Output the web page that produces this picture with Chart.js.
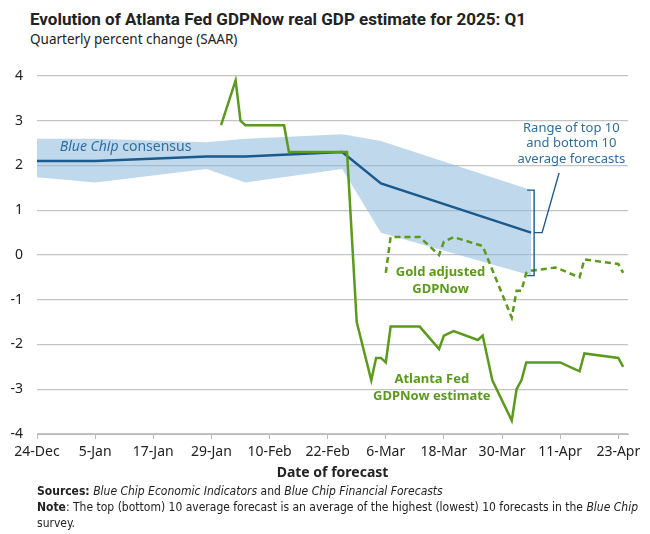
<!DOCTYPE html>
<html>
<head>
<meta charset="utf-8">
<script src="https://cdn.jsdelivr.net/npm/chart.js@4.4.1/dist/chart.umd.min.js"></script>
<style>
  body { margin: 0; width: 650px; height: 534px; background: #fff; position: relative; overflow: hidden; font-family: 'Noto Sans', sans-serif; color: #222; }
  #title { position: absolute; left: 30px; top: 9px; font-family: Roboto, 'Noto Sans', sans-serif; font-size: 17px; font-weight: bold; }
  #sub { position: absolute; left: 30px; top: 30px; font-size: 13.5px; }
  #wrap { position: absolute; left: 0; top: 50px; width: 650px; height: 436px; }
  #notes { position: absolute; left: 37px; top: 483px; font-family: 'Liberation Sans Narrow', 'DejaVu Sans Condensed', sans-serif; font-size: 12px; line-height: 16px; }
</style>
</head>
<body>
<div id="title">Evolution of Atlanta Fed GDPNow real GDP estimate for 2025: Q1</div>
<div id="sub">Quarterly percent change (SAAR)</div>
<div id="wrap"><canvas id="gdp"></canvas></div>
<div id="notes">
  <b>Sources:</b> <i>Blue Chip Economic Indicators</i> and <i>Blue Chip Financial Forecasts</i><br>
  <b>Note</b>: The top (bottom) 10 average forecast is an average of the highest (lowest) 10 forecasts in the <i>Blue Chip</i><br>survey.
</div>
<script>
  // x values are days since 24-Dec-2024
  const tickDays   = [0, 12, 24, 36, 48, 60, 72, 84, 96, 108, 120];
  const tickLabels = ["24-Dec", "5-Jan", "17-Jan", "29-Jan", "10-Feb", "22-Feb", "6-Mar", "18-Mar", "30-Mar", "11-Apr", "23-Apr"];

  const consensusDays   = [0, 12, 35, 43, 63, 71, 102];
  const consensusValues = [2.1, 2.1, 2.2, 2.2, 2.3, 1.6, 0.5];
  const top10Values     = [2.6, 2.6, 2.52, 2.6, 2.7, 2.55, 1.45];
  const bottom10Values  = [1.74, 1.62, 1.92, 1.62, 1.92, 0.5, -0.46];

  const nowDays   = [38, 41, 42, 43, 51, 52, 64, 66, 69, 70, 71, 72, 73, 79, 83, 84, 86, 91, 92, 94, 98, 99, 100, 101, 108, 112, 113, 120, 121];
  const nowValues = [2.9, 3.9, 3.0, 2.9, 2.9, 2.3, 2.3, -1.5, -2.8, -2.3, -2.3, -2.4, -1.6, -1.6, -2.1, -1.8, -1.7, -1.9, -1.8, -2.8, -3.7, -3.0, -2.8, -2.4, -2.4, -2.6, -2.2, -2.3, -2.5];

  const goldDays   = [72, 73, 79, 83, 84, 86, 92, 98, 99, 100, 101, 102, 107, 108, 112, 113, 120, 121];
  const goldValues = [-0.4, 0.4, 0.4, 0.0, 0.3, 0.4, 0.2, -1.4, -0.8, -0.8, -0.4, -0.35, -0.28, -0.32, -0.5, -0.1, -0.2, -0.4];

  const BLUE = "#1b5a8c";
  const LABEL_BLUE = "#2f6f9f";
  const GREEN = "#5b9a1c";
  const FONT = "'Noto Sans', sans-serif";

  const pts = (xs, ys) => xs.map((d, i) => ({ x: d, y: ys[i] }));

  Chart.defaults.font.family = FONT;
  Chart.defaults.color = "#222";

  // text labels and the range bracket
  const notes = {
    id: "notes",
    afterDatasetsDraw(chart) {
      const { ctx, scales: { x, y } } = chart;
      ctx.save();
      ctx.textBaseline = "middle";

      ctx.fillStyle = LABEL_BLUE;
      ctx.textAlign = "left";
      let px = x.getPixelForValue(4.7), py = y.getPixelForValue(2.41);
      ctx.font = "italic 14px " + FONT;
      ctx.fillText("Blue Chip", px, py);
      px += ctx.measureText("Blue Chip ").width;
      ctx.font = "14px " + FONT;
      ctx.fillText("consensus", px, py);

      ctx.fillStyle = GREEN;
      ctx.textAlign = "center";
      ctx.font = "bold 13px " + FONT;
      ctx.fillText("Gold adjusted", x.getPixelForValue(83.3), y.getPixelForValue(-0.39));
      ctx.fillText("GDPNow", x.getPixelForValue(83.3), y.getPixelForValue(-0.76));
      ctx.fillText("Atlanta Fed", x.getPixelForValue(81.5), y.getPixelForValue(-2.77));
      ctx.fillText("GDPNow estimate", x.getPixelForValue(81.5), y.getPixelForValue(-3.16));

      ctx.fillStyle = LABEL_BLUE;
      ctx.font = "13px " + FONT;
      const rx = x.getPixelForValue(110.3), ry = y.getPixelForValue(2.84);
      ["Range of top 10", "and bottom 10", "average forecasts"].forEach((t, i) => ctx.fillText(t, rx, ry + i * 15.5));

      const last = consensusDays.length - 1;
      const bx = x.getPixelForValue(consensusDays[last]) + 3;
      const yt = y.getPixelForValue(top10Values[last]);
      const yb = y.getPixelForValue(bottom10Values[last]);
      const ym = y.getPixelForValue(consensusValues[last]);
      ctx.strokeStyle = BLUE;
      ctx.lineWidth = 1.4;
      ctx.beginPath();
      ctx.moveTo(bx - 7, yt); ctx.lineTo(bx, yt); ctx.lineTo(bx, yb); ctx.lineTo(bx - 7, yb);
      ctx.moveTo(bx, ym); ctx.lineTo(bx + 8, ym); ctx.lineTo(bx + 25, ry + 2 * 15.5 + 14);
      ctx.stroke();
      ctx.restore();
    }
  };

  new Chart(document.getElementById("gdp"), {
    type: "line",
    data: {
      datasets: [
        { label: "Atlanta Fed GDPNow estimate", data: pts(nowDays, nowValues), borderColor: GREEN, borderWidth: 2.5, pointRadius: 0, tension: 0 },
        { label: "Gold adjusted GDPNow", data: pts(goldDays, goldValues), borderColor: GREEN, borderWidth: 2.5, borderDash: [6, 4], pointRadius: 0, tension: 0 },
        { label: "Blue Chip consensus", data: pts(consensusDays, consensusValues), borderColor: BLUE, borderWidth: 2.5, pointRadius: 0, tension: 0 },
        { label: "Top 10 average", data: pts(consensusDays, top10Values), borderWidth: 0, pointRadius: 0, fill: "+1", backgroundColor: "rgba(140,184,220,0.55)" },
        { label: "Bottom 10 average", data: pts(consensusDays, bottom10Values), borderWidth: 0, pointRadius: 0, fill: false },
      ],
    },
    options: {
      responsive: true,
      maintainAspectRatio: false,
      animation: false,
      layout: { padding: { top: 26, right: 22, left: 0, bottom: 0 } },
      plugins: { legend: { display: false }, tooltip: { enabled: false } },
      scales: {
        x: {
          type: "linear",
          min: 0,
          max: 122,
          afterBuildTicks: (s) => { s.ticks = tickDays.map((v) => ({ value: v })); },
          afterFit: (s) => { s.height = 52; },
          ticks: { callback: (v) => tickLabels[tickDays.indexOf(v)] || "", font: { size: 14 }, color: "#222", padding: 5, maxRotation: 0, autoSkip: false },
          grid: { drawOnChartArea: false, drawTicks: true, tickLength: 5, color: "#bbb" },
          border: { display: true, color: "#bbb" },
          title: { display: true, text: "Date of forecast", font: { size: 14, weight: "bold" }, color: "#222", padding: { top: 0, bottom: 5 } },
        },
        y: {
          min: -4,
          max: 4,
          afterFit: (s) => { s.width = 37; },
          ticks: { stepSize: 1, font: { size: 14 }, color: "#222", padding: 14 },
          grid: { color: "#c4c4c4", drawTicks: false, lineWidth: 1.2 },
          border: { display: false },
        },
      },
    },
    plugins: [notes],
  });
</script>
</body>
</html>
